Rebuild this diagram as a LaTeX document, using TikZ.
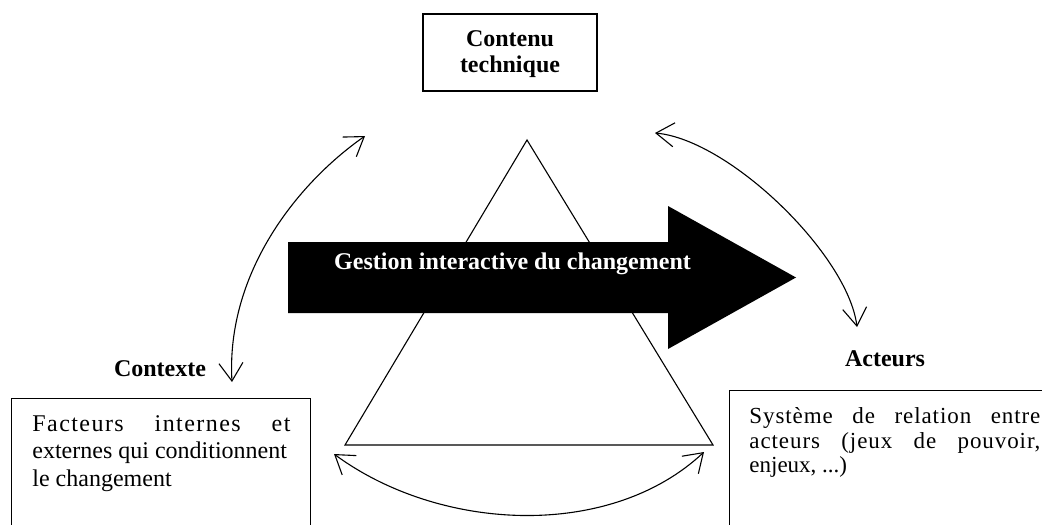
\documentclass[tikz,border=0pt]{standalone}
\usepackage{fontspec}
\setmainfont{Liberation Serif}
\usetikzlibrary{arrows.meta}
\begin{document}
\begin{tikzpicture}[x=0.5pt,y=-0.5pt,
  lbl/.style={font=\fontsize{12}{13}\selectfont\bfseries, inner sep=0pt},
  bodyL/.style={font=\fontsize{12}{13.75}\selectfont, inner sep=0pt, anchor=north west, align=justify},
  bodyR/.style={font=\fontsize{11.5}{12.4}\selectfont, inner sep=0pt, anchor=north west, align=justify},
  frame/.style={draw, line width=0.7pt, inner sep=0pt},
  thin/.style={line width=0.55pt},
  barb/.tip={Straight Barb[length=9pt,width=12pt]},
  link/.style={thin, barb-barb}
]
\useasboundingbox (0,0) rectangle (1042,524);

% top box
\node[frame, minimum width=87pt, minimum height=38.5pt] (topbox) at (510,52.5) {};
\node[lbl, align=center] (toptext) at (510,54.5) {Contenu\\technique};

% triangle
\coordinate (apex) at (527,140);
\coordinate (tl) at (345,445);
\coordinate (tr) at (713,445);
\draw[thin] (apex) -- (tr) -- (tl) -- cycle;

% big black arrow
\fill (288,242) -- (668,242) -- (668,206) -- (796,277.5) -- (668,349) -- (668,313) -- (288,313) -- cycle;
\node[lbl, text=white, anchor=base] (gestion) at (512.5,269) {Gestion interactive du changement};

% labels
\node[lbl, anchor=base] (ctx) at (160,376.7) {Contexte};
\node[lbl, anchor=base] (act) at (885,366) {Acteurs};

% left box
\node[frame, anchor=north west, minimum width=149.5pt, minimum height=66pt] (ctxbox) at (11,398) {};
\node[bodyL, text width=129pt] (ctxtext) at (32,415) {{\addfontfeature{LetterSpace=6}Facteurs\hfill internes\hfill et}\\externes qui conditionnent\\le changement};

% right box
\node[frame, anchor=north west, minimum width=158pt, minimum height=70pt] (actbox) at (729,390) {};
\node[bodyR, text width=145.5pt] (acttext) at (749,407) {{\addfontfeature{LetterSpace=4}Système\hfill de\hfill relation\hfill entre}\\{\addfontfeature{LetterSpace=4}acteurs\hfill (jeux\hfill de\hfill pouvoir,}\\enjeux, ...)};

% curved double arrows
\coordinate (l1) at (232,382);
\coordinate (l2) at (365,136);
\draw[link] (l1) .. controls (226,275) and (295,185) .. (l2);

\coordinate (r1) at (655,133);
\coordinate (r2) at (857,327);
\draw[link] (r1) .. controls (730,140) and (848,255) .. (r2);

\coordinate (b1) at (334,454);
\coordinate (b2) at (704,452);
\draw[link] (b1) .. controls (440,532) and (610,540) .. (b2);
\end{tikzpicture}
\end{document}
